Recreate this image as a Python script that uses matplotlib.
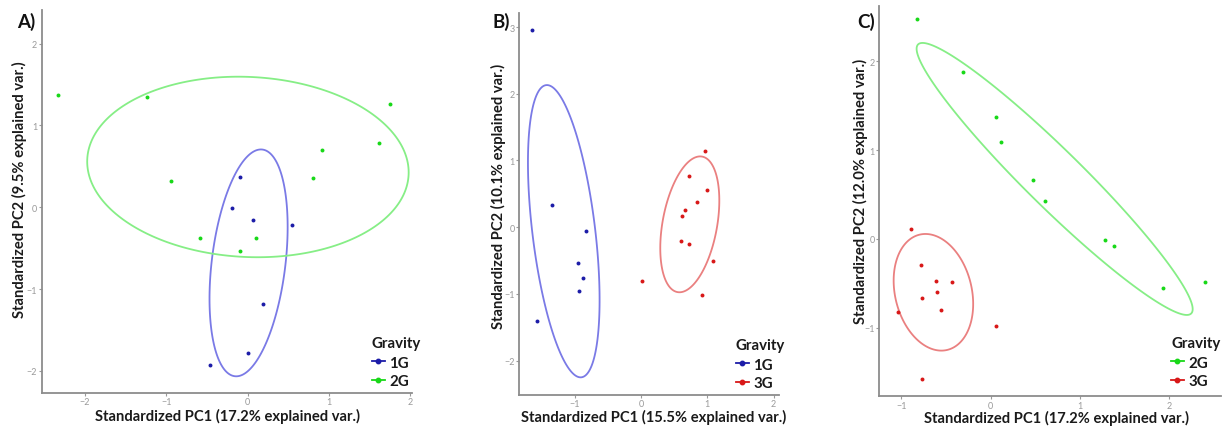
import numpy as np
import matplotlib
matplotlib.use("Agg")
import matplotlib.pyplot as plt
from matplotlib.lines import Line2D
from matplotlib.patches import Polygon

plt.rcParams['font.family'] = ['Lato', 'DejaVu Sans']

# ---------------- data ----------------
# Panel A : 1G vs 2G
A_1G_x = [-0.094, -0.189, 0.07, 0.546, 0.189, 0.0, -0.464]
A_1G_y = [0.374, -0.012, -0.155, -0.22, -1.188, -1.783, -1.925]
A_2G_x = [-2.33, -1.232, -0.936, -0.587, -0.094, 0.103, 0.809, 0.92, 1.618, 1.754]
A_2G_y = [1.376, 1.347, 0.322, -0.374, -0.533, -0.374, 0.358, 0.704, 0.79, 1.266]
# ellipse: centre x, centre y, half-extent x, half-extent y, correlation
A_1G_ell = [0.012, -0.68, 0.48, 1.386, 0.316]
A_2G_ell = [0.004, 0.492, 1.975, 1.103, -0.06]

# Panel B : 1G vs 3G
B_1G_x = [-1.645, -1.345, -0.825, -0.945, -0.875, -0.93, -1.57]
B_1G_y = [2.96, 0.34, -0.06, -0.54, -0.765, -0.955, -1.4]
B_3G_x = [0.96, 0.73, 0.99, 0.85, 0.665, 0.61, 0.595, 0.73, 1.085, 0.915, 0.01]
B_3G_y = [1.14, 0.77, 0.565, 0.375, 0.255, 0.17, -0.2, -0.25, -0.51, -1.01, -0.805]
B_1G_ell = [-1.165, -0.06, 0.54, 2.19, -0.47]
B_3G_ell = [0.735, 0.043, 0.445, 1.018, 0.35]

# Panel C : 2G vs 3G
C_2G_x = [-0.829, -0.306, 0.056, 0.12, 0.471, 0.605, 1.281, 1.378, 1.927, 2.398]
C_2G_y = [2.475, 1.882, 1.376, 1.087, 0.664, 0.424, -0.008, -0.079, -0.547, -0.48]
C_3G_x = [-0.893, -0.784, -0.613, -0.43, -0.601, -0.77, -0.56, -1.035, 0.06, -0.766]
C_3G_y = [0.109, -0.289, -0.472, -0.48, -0.6, -0.664, -0.795, -0.825, -0.975, -1.571]
C_2G_ell = [0.715, 0.675, 1.545, 1.53, -0.957]
C_3G_ell = [-0.642, -0.6, 0.445, 0.656, -0.2]

x_labels = ["Standardized PC1 (17.2% explained var.)",
            "Standardized PC1 (15.5% explained var.)",
            "Standardized PC1 (17.2% explained var.)"]
y_labels = ["Standardized PC2 (9.5% explained var.)",
            "Standardized PC2 (10.1% explained var.)",
            "Standardized PC2 (12.0% explained var.)"]
panel_tags = ["A)", "B)", "C)"]
legend_title = "Gravity"

# ---------------- style ----------------
pt_col = {"1G": "#1c1ca8", "2G": "#18d818", "3G": "#d81818"}
ell_col = {"1G": "#7a7ae6", "2G": "#86ee86", "3G": "#ea8080"}
TXT = "#1a1a1a"
LAB_FS = 10.6
LEG_FS = 10.8


def ellipse_xy(p, n=240):
    cx, cy, sx, sy, r = p
    M = np.array([[sx * sx, r * sx * sy], [r * sx * sy, sy * sy]])
    L = np.linalg.cholesky(M)
    t = np.linspace(0, 2 * np.pi, n, endpoint=False)
    pts = L @ np.vstack([np.cos(t), np.sin(t)])
    return pts[0] + cx, pts[1] + cy


W, H = 1232, 427
fig = plt.figure(figsize=(W / 100, H / 100), dpi=100)

panels = [
    dict(rect=[41.7, 11, 412, 394], xlim=(-2.53, 2.02), ylim=(-2.27, 2.41),
         xt=[-2, -1, 0, 1, 2], yt=[-2, -1, 0, 1, 2],
         groups=[("1G", A_1G_x, A_1G_y, A_1G_ell), ("2G", A_2G_x, A_2G_y, A_2G_ell)],
         tag=(17, 22), xlab=(0.503, -0.058), ylab=(-0.06, 0.533),
         leg=(372, 337)),
    dict(rect=[519, 14, 779, 395.7], xlim=(-1.84, 2.08), ylim=(-2.51, 3.21),
         xt=[-1, 0, 1, 2], yt=[-2, -1, 0, 1, 2, 3],
         groups=[("1G", B_1G_x, B_1G_y, B_1G_ell), ("3G", B_3G_x, B_3G_y, B_3G_ell)],
         tag=(492, 22), xlab=(0.519, -0.056), ylab=(-0.078, 0.522),
         leg=(736, 339)),
    dict(rect=[879, 7.3, 1221, 397.3], xlim=(-1.251, 2.577), ylim=(-1.77, 2.617),
         xt=[-1, 0, 1, 2], yt=[-1, 0, 1, 2],
         groups=[("2G", C_2G_x, C_2G_y, C_2G_ell), ("3G", C_3G_x, C_3G_y, C_3G_ell)],
         tag=(857, 22), xlab=(0.518, -0.053), ylab=(-0.055, 0.529),
         leg=(1171, 337)),
]

for i, p in enumerate(panels):
    l, t, r, b = p["rect"]
    ax = fig.add_axes([l / W, 1 - b / H, (r - l) / W, (b - t) / H])
    ax.set_xlim(*p["xlim"])
    ax.set_ylim(*p["ylim"])
    handles = []
    for name, xs, ys, ell in p["groups"]:
        ex, ey = ellipse_xy(ell)
        ax.add_patch(Polygon(np.column_stack([ex, ey]), closed=True, fill=False,
                             edgecolor=ell_col[name], lw=1.3, zorder=2))
        ax.scatter(xs, ys, s=8, color=pt_col[name], zorder=3, linewidths=0)
        handles.append(Line2D([], [], color=pt_col[name], lw=1.3, marker='o',
                              markersize=3.2, label=name))
    for s in ["top", "right"]:
        ax.spines[s].set_visible(False)
    for s in ["left", "bottom"]:
        ax.spines[s].set_color("#8c8c8c")
        ax.spines[s].set_linewidth(1.3)
    ax.set_xticks(p["xt"])
    ax.set_yticks(p["yt"])
    ax.tick_params(colors="#9a9a9a", labelsize=6.5, length=2.2, width=0.8, pad=1.0)
    ax.set_xlabel(x_labels[i], fontsize=LAB_FS, fontweight="bold", color=TXT)
    ax.set_ylabel(y_labels[i], fontsize=LAB_FS, fontweight="bold", color=TXT)
    ax.xaxis.set_label_coords(*p["xlab"])
    ax.yaxis.set_label_coords(*p["ylab"])
    ax.xaxis.label.set_va("center")
    ax.yaxis.label.set_va("center")
    fig.text(p["tag"][0] / W, 1 - p["tag"][1] / H, panel_tags[i], fontsize=13.5,
             fontweight="bold", ha="left", va="center", color="#111111")
    leg = ax.legend(handles=handles, title=legend_title, loc="upper left",
                    bbox_to_anchor=(p["leg"][0] / W, 1 - p["leg"][1] / H),
                    bbox_transform=fig.transFigure, frameon=False,
                    prop=dict(weight="bold", size=LEG_FS),
                    title_fontproperties=dict(weight="bold", size=LEG_FS),
                    alignment="left", handlelength=0.85, handletextpad=0.3,
                    labelspacing=0.32, borderpad=0, borderaxespad=0)
    leg._legend_box.sep = 4
    for txt in leg.get_texts():
        txt.set_color(TXT)
    leg.get_title().set_color(TXT)

fig.savefig("out.png", dpi=100)
